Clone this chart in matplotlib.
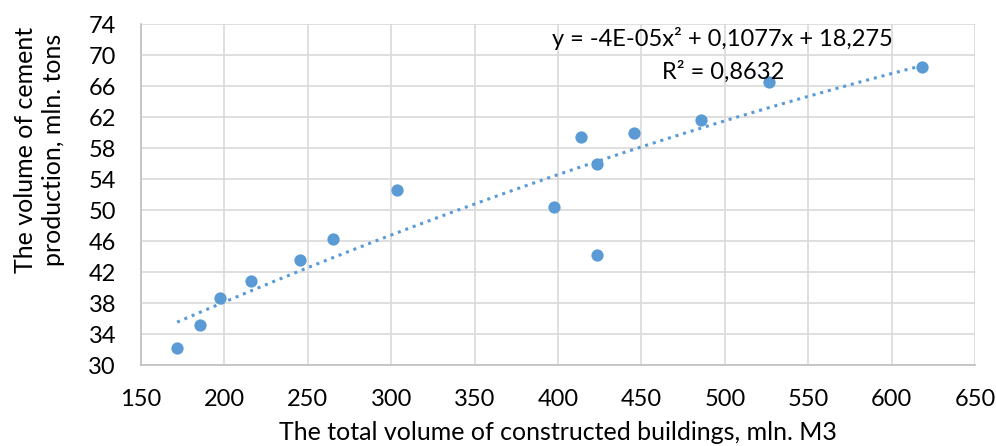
"""
Cement production vs. constructed building volume, with a 2nd order trendline.
"""

import numpy as np
import matplotlib
matplotlib.use('Agg')
from matplotlib import pyplot as plt


# total volume of constructed buildings, mln. M3
buildings = [171.6, 185.4, 197.4, 216.0, 245.3, 265.0, 303.4, 397.6,
             413.8, 423.4, 423.4, 445.6, 485.6, 526.5, 618.4]
# volume of cement production, mln. tons
cement = [32.2, 35.2, 38.6, 40.8, 43.5, 46.3, 52.6, 50.4,
          59.4, 44.2, 55.9, 60.0, 61.65, 66.5, 68.45]

X_TICKS = list(range(150, 651, 50))
Y_TICKS = list(range(30, 75, 4))

EQUATION = 'y = -4E-05x² + 0,1077x + 18,275'
R_SQUARED = 'R² = 0,8632'

BLUE = '#5b9bd5'
GRID = '#d9d9d9'


def main():
    plt.rcParams['font.family'] = ['Lato', 'DejaVu Sans']

    fig = plt.figure(figsize=(9.96, 4.46), dpi=100)
    ax = fig.add_axes([0.1416, 0.1816, 0.979 - 0.1416, 0.946 - 0.1816])

    x = np.array(buildings)
    y = np.array(cement)

    # polynomial trendline, like the one Excel draws
    coef = np.polyfit(x, y, 2)
    xs = np.linspace(x.min(), x.max(), 200)
    ax.plot(xs, np.polyval(coef, xs), linestyle=(0, (1, 1.6)), color=BLUE,
            linewidth=2.2, zorder=2)

    ax.scatter(x, y, s=78, color=BLUE, zorder=3, linewidths=0)

    ax.set_xlim(150, 650)
    ax.set_ylim(30, 74)
    ax.set_xticks(X_TICKS)
    ax.set_yticks(Y_TICKS)
    ax.tick_params(length=0, labelsize=17, colors='#000000')
    ax.tick_params(axis='x', pad=17)
    ax.tick_params(axis='y', pad=18)

    ax.grid(True, color=GRID, linewidth=1.2)
    ax.set_axisbelow(True)
    for side in ('top', 'right'):
        ax.spines[side].set_visible(False)
    for side in ('left', 'bottom'):
        ax.spines[side].set_color('#bfbfbf')
        ax.spines[side].set_linewidth(1.2)

    ax.set_xlabel('The total volume of constructed buildings, mln. M3',
                  fontsize=18, labelpad=8.5)
    ax.set_ylabel('The volume of cement\nproduction, mln. tons',
                  fontsize=18, linespacing=1.3)
    # Excel put the y title above the axis centre
    ax.yaxis.label.set_va('center')
    ax.yaxis.set_label_coords(-0.1217, 0.63)

    ax.text(498.5, 72.2, EQUATION, fontsize=17, ha='center', va='center')
    ax.text(499, 67.9, R_SQUARED, fontsize=17, ha='center', va='center')

    plt.savefig('out.png', dpi=100)


if __name__ == '__main__':
    main()
